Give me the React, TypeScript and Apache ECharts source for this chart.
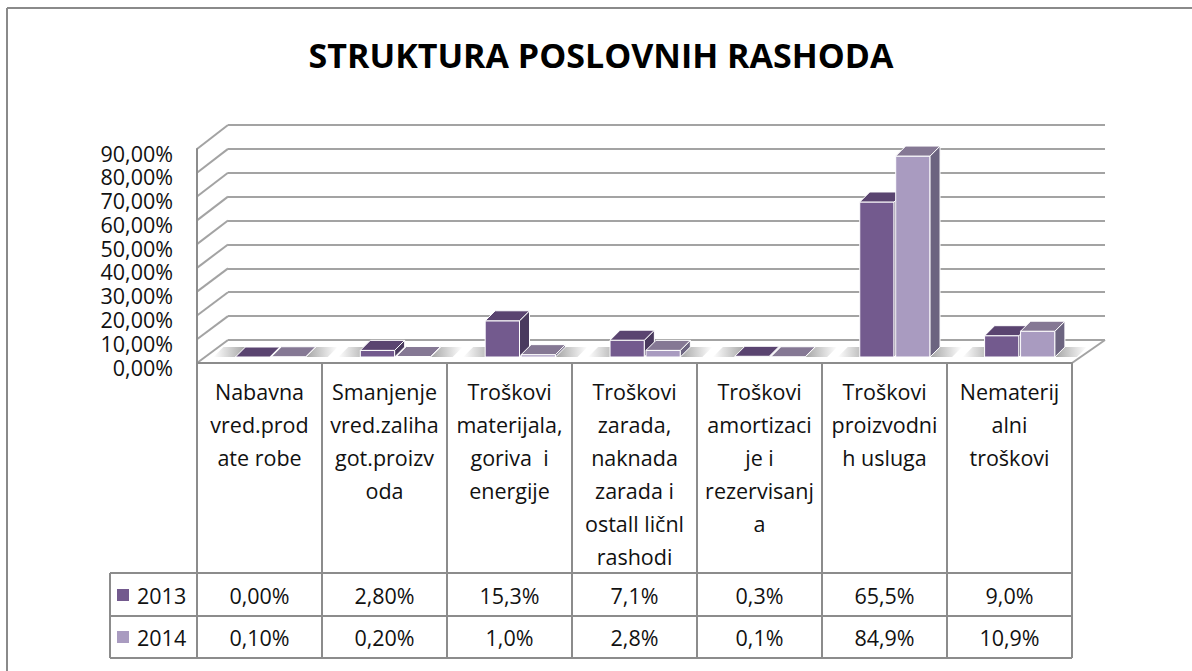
import React, { useEffect, useRef } from "react";
import * as echarts from "echarts";

const titleText = "STRUKTURA POSLOVNIH RASHODA";
const categories = [
  "Nabavna\nvred.prod\nate robe",
  "Smanjenje\nvred.zaliha\ngot.proizv\noda",
  "Troškovi\nmaterijala,\ngoriva  i\nenergije",
  "Troškovi\nzarada,\nnaknada\nzarada i\nostall ličnl\nrashodi",
  "Troškovi\namortizaci\nje i\nrezervisanj\na",
  "Troškovi\nproizvodni\nh usluga",
  "Nematerij\nalni\ntroškovi",
];
const years = ["2013", "2014"];
const values2013 = [0.0, 2.8, 15.3, 7.1, 0.3, 65.5, 9.0];
const values2014 = [0.1, 0.2, 1.0, 2.8, 0.1, 84.9, 10.9];
const decimals2013 = [2, 2, 1, 1, 1, 1, 1];
const decimals2014 = [2, 2, 1, 1, 1, 1, 1];
const yMin = 0;
const yMax = 90;
const yStep = 10;

const FONT = "'Open Sans', sans-serif";
const FRONT = ["#735A8E", "#A99BC0"];
const TOP = ["#5A4470", "#857894"];
const SIDE = ["#4A3A5E", "#6C6480"];
const LINE = "#8c8c8c";
const GRIDLINE = "#a3a3a3";

// layout
const FRONT_LEFT = 197;
const FRONT_RIGHT = 1072;
const BACK_LEFT = 228;
const BACK_RIGHT = 1105;
const TABLE_LEFT = 110;
const ROW_LINES = [573, 616, 658];
const DEPTH_X = 10;
const DEPTH_Y = -10;

const fmt = (v: number, d: number) => v.toFixed(d).replace(".", ",") + "%";

function makeRender(s: number) {
  return (params: any, api: any) => {
    const idx = api.value(0);
    const val = api.value(1);
    const base = api.coord([idx, 0]);
    const topP = api.coord([idx, val]);
    const bw = api.size([1, 0])[0];
    const w = 0.275 * bw;
    const x0 = base[0] + (s === 0 ? -0.256 : 0.032) * bw;
    const yb = base[1];
    const yt = topP[1];
    const children: any[] = [];
    const shW = 22;
    if (s === 0) {
      children.push({
        type: "polygon",
        shape: {
          points: [
            [x0 - shW, yb],
            [x0, yb],
            [x0 + DEPTH_X, yb + DEPTH_Y],
            [x0 - shW + DEPTH_X, yb + DEPTH_Y],
          ],
        },
        style: {
          fill: new echarts.graphic.LinearGradient(0, 0, 1, 0, [
            { offset: 0, color: "rgba(90,90,90,0)" },
            { offset: 1, color: "rgba(90,90,90,0.55)" },
          ]),
        },
      });
    } else {
      children.push({
        type: "polygon",
        shape: {
          points: [
            [x0 + w, yb],
            [x0 + w + shW, yb],
            [x0 + w + shW + DEPTH_X, yb + DEPTH_Y],
            [x0 + w + DEPTH_X, yb + DEPTH_Y],
          ],
        },
        style: {
          fill: new echarts.graphic.LinearGradient(0, 0, 1, 0, [
            { offset: 0, color: "rgba(90,90,90,0.55)" },
            { offset: 1, color: "rgba(90,90,90,0)" },
          ]),
        },
      });
    }
    const stroke = { stroke: "#ffffff", lineWidth: 1 };
    children.push({
      type: "rect",
      shape: { x: x0, y: yt, width: w, height: yb - yt },
      style: { fill: FRONT[s], ...stroke },
    });
    children.push({
      type: "polygon",
      shape: {
        points: [
          [x0 + w, yt],
          [x0 + w + DEPTH_X, yt + DEPTH_Y],
          [x0 + w + DEPTH_X, yb + DEPTH_Y],
          [x0 + w, yb],
        ],
      },
      style: { fill: SIDE[s], ...stroke },
    });
    children.push({
      type: "polygon",
      shape: {
        points: [
          [x0, yt],
          [x0 + w, yt],
          [x0 + w + DEPTH_X, yt + DEPTH_Y],
          [x0 + DEPTH_X, yt + DEPTH_Y],
        ],
      },
      style: { fill: TOP[s], ...stroke },
    });
    return { type: "group", children };
  };
}

export default function App() {
  const ref = useRef<HTMLDivElement>(null);
  useEffect(() => {
    if (!ref.current) return;
    const chart = echarts.init(ref.current, undefined, { renderer: "svg" });
    const labelStyle = { fontFamily: FONT, fontSize: 21.5, color: "#111" };
    const option: any = {
      animation: false,
      backgroundColor: "#ffffff",
      textStyle: { fontFamily: FONT },
      title: {
        text: titleText,
        left: 601,
        top: 38,
        padding: 0,
        textAlign: "center",
        textStyle: { fontFamily: FONT, fontSize: 34, fontWeight: "bold", color: "#000" },
      },
      legend: {
        orient: "vertical",
        left: 117,
        top: 583,
        padding: 0,
        itemWidth: 12,
        itemHeight: 12,
        itemGap: 18,
        icon: "rect",
        selectedMode: false,
        data: years,
        textStyle: { ...labelStyle, lineHeight: 24, padding: [0, 0, 0, 3] },
      },
      grid: [
        { left: 205, top: 144, width: 874, height: 213 },
        { left: BACK_LEFT, top: 125, width: BACK_RIGHT - BACK_LEFT, height: 215 },
        { left: FRONT_LEFT, top: 149, width: FRONT_RIGHT - FRONT_LEFT, height: 214 },
      ],
      xAxis: [
        { gridIndex: 0, type: "category", data: categories, show: false },
        { gridIndex: 1, type: "category", data: categories, show: false },
        {
          gridIndex: 2,
          type: "category",
          data: categories,
          position: "bottom",
          axisLine: { show: true, onZero: false, lineStyle: { color: LINE, width: 2 } },
          axisTick: { show: true, interval: 0, length: ROW_LINES[2] - 363, lineStyle: { color: LINE, width: 2 } },
          axisLabel: { ...labelStyle, interval: 0, margin: 12, lineHeight: 33 },
        },
        {
          gridIndex: 2,
          type: "category",
          data: categories,
          position: "bottom",
          offset: 232,
          axisLine: { show: false, onZero: false },
          axisTick: { show: false },
          axisLabel: {
            ...labelStyle,
            interval: 0,
            margin: 0,
            verticalAlign: "middle",
            formatter: (_v: string, i: number) => fmt(values2013[i], decimals2013[i]),
          },
        },
        {
          gridIndex: 2,
          type: "category",
          data: categories,
          position: "bottom",
          offset: 274,
          axisLine: { show: false, onZero: false },
          axisTick: { show: false },
          axisLabel: {
            ...labelStyle,
            interval: 0,
            margin: 0,
            verticalAlign: "middle",
            formatter: (_v: string, i: number) => fmt(values2014[i], decimals2014[i]),
          },
        },
      ],
      yAxis: [
        { gridIndex: 0, type: "value", min: yMin, max: yMax, show: false },
        {
          gridIndex: 1,
          type: "value",
          min: yMin,
          max: yMax,
          interval: yStep,
          axisLine: { show: false },
          axisTick: { show: false },
          axisLabel: { show: false },
          splitLine: { show: true, lineStyle: { color: GRIDLINE, width: 2 } },
        },
        {
          gridIndex: 2,
          type: "value",
          min: yMin,
          max: yMax,
          interval: yStep,
          axisLine: { show: true, onZero: false, lineStyle: { color: LINE, width: 2 } },
          axisTick: { show: false },
          splitLine: { show: false },
          axisLabel: {
            ...labelStyle,
            margin: 24,
            lineHeight: 8,
            verticalAlign: "top",
            showMinLabel: true,
            showMaxLabel: true,
            hideOverlap: false,
            formatter: (v: number) => fmt(v, 2),
          },
        },
      ],
      series: [values2013, values2014].map((vals, s) => ({
        type: "custom",
        name: years[s],
        xAxisIndex: 0,
        yAxisIndex: 0,
        itemStyle: { color: FRONT[s] },
        renderItem: makeRender(s),
        encode: { x: 0, y: 1 },
        data: vals.map((v, i) => [i, v]),
      })),
    };
    chart.setOption(option);

    // 3D wall connectors computed from the axes' own scales
    const graphics: any[] = [];
    for (let v = yMin; v <= yMax; v += yStep) {
      const yf = chart.convertToPixel({ yAxisIndex: 2 } as any, v) as number;
      const yb = chart.convertToPixel({ yAxisIndex: 1 } as any, v) as number;
      graphics.push({
        type: "line",
        shape: { x1: FRONT_LEFT, y1: yf, x2: BACK_LEFT, y2: yb },
        style: { stroke: GRIDLINE, lineWidth: 2 },
      });
      if (v === yMin) {
        graphics.push({
          type: "line",
          shape: { x1: FRONT_RIGHT, y1: yf, x2: BACK_RIGHT, y2: yb },
          style: { stroke: GRIDLINE, lineWidth: 2 },
        });
      }
    }
    ROW_LINES.forEach((y) => {
      graphics.push({
        type: "line",
        shape: { x1: TABLE_LEFT, y1: y, x2: FRONT_RIGHT, y2: y },
        style: { stroke: LINE, lineWidth: 2 },
      });
    });
    graphics.push({
      type: "line",
      shape: { x1: TABLE_LEFT, y1: ROW_LINES[0], x2: TABLE_LEFT, y2: ROW_LINES[2] },
      style: { stroke: LINE, lineWidth: 2 },
    });
    graphics.push({
      type: "line",
      shape: { x1: 7, y1: 8, x2: 1192, y2: 8 },
      style: { stroke: "#8a8a8a", lineWidth: 2 },
    });
    graphics.push({
      type: "line",
      shape: { x1: 7, y1: 8, x2: 7, y2: 671 },
      style: { stroke: "#8a8a8a", lineWidth: 2 },
    });
    chart.setOption({ graphic: graphics });

    return () => chart.dispose();
  }, []);
  return (
    <div
      ref={ref}
      style={{ position: "fixed", left: 0, top: 0, width: 1192, height: 671, background: "#fff" }}
    />
  );
}
